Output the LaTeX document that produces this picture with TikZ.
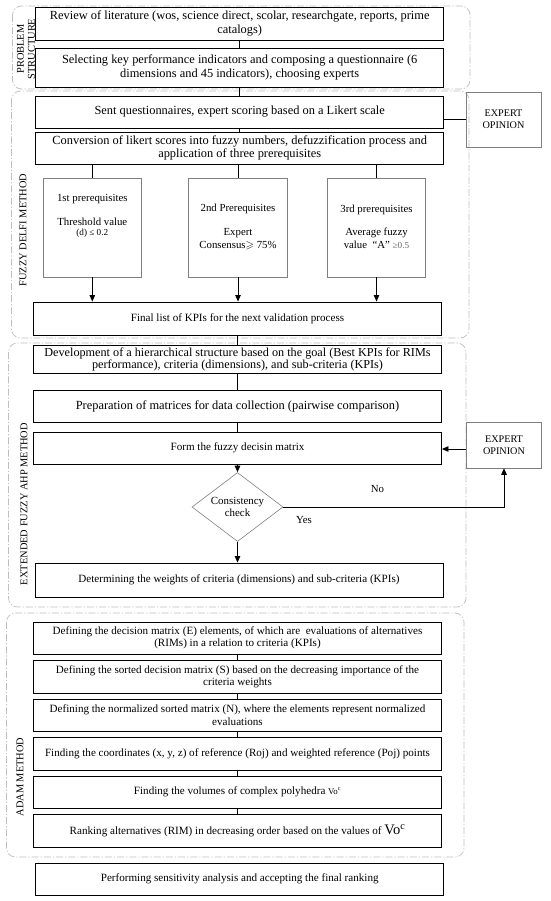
\documentclass[tikz,border=0pt]{standalone}
\usepackage{amssymb}
\usepackage{fontspec}
\setmainfont{Liberation Serif}
\usetikzlibrary{shapes.geometric,arrows.meta}
\begin{document}
\begin{tikzpicture}[x=1pt,y=-1pt,
  bigtxt/.style={font=\fontsize{12.4}{13.4}\selectfont},
  smalltxt/.style={font=\fontsize{11.1}{12.4}\selectfont},
  mainbox/.style={draw=black, line width=0.9pt, minimum width=408, align=center, inner sep=1pt},
  prebox/.style={draw=black!50, line width=0.6pt, minimum width=98.5, minimum height=99, align=center, inner sep=1pt},
  eobox/.style={draw=black!50, line width=0.6pt, minimum width=75, align=center, font=\fontsize{10.2}{12}\selectfont},
  ptxt/.style={font=\fontsize{10.8}{12}\selectfont},
  grp/.style={draw=black!25, line width=0.7pt, rounded corners=9pt, dash pattern=on 7pt off 2pt on 1.2pt off 2pt},
  grplbl/.style={rotate=90, align=center, font=\fontsize{10.4}{11}\selectfont},
  conn/.style={line width=0.9pt},
  arr/.style={line width=0.9pt, -{Triangle[length=6.5pt,width=5.5pt]}}
]
\useasboundingbox (0,0) rectangle (550,901);
\fill[white] (0,0) rectangle (550,901);

% groups
\draw[grp] (12.5,6) rectangle (470,89);
\draw[grp] (11.5,91) rectangle (469,338);
\draw[grp] (8.5,343) rectangle (466,607);
\draw[grp] (6.5,613) rectangle (464,857);

\node[grplbl] (l1) at (26,49) {PROBLEM\\STRUCTURE};
\node[grplbl] (l2) at (23,230) {FUZZY DELFI METHOD};
\node[grplbl] (l3) at (24,504) {EXTENDED FUZZY AHP METHOD};
\node[grplbl] (l4) at (20,777) {ADAM METHOD};

% problem structure
\node[mainbox, bigtxt, minimum height=33] (b1) at (239.7,23.5) {Review of literature (wos, science direct, scolar, researchgate, reports, prime\\catalogs)};
\node[mainbox, bigtxt, minimum height=39] (b2) at (239.7,67.5) {Selecting key performance indicators and composing a questionnaire (6\\dimensions and 45 indicators), choosing experts};

% fuzzy delfi
\node[mainbox, bigtxt, minimum height=32] (b3) at (239.7,112) {Sent questionnaires, expert scoring based on a Likert scale};
\node[eobox, minimum height=55] (eo1) at (503.5,119.5) {EXPERT\\OPINION};
\node[mainbox, bigtxt, minimum height=32] (b4) at (239.7,148) {Conversion of likert scores into fuzzy numbers, defuzzification process and\\application of three prerequisites};

\node[prebox] (pa) at (92.3,227.5) {};
\node[prebox] (pb) at (238,227.5) {};
\node[prebox] (pc) at (376.5,227.5) {};
\node[ptxt] (pa1) at (92.3,199) {1st prerequisites};
\node[ptxt] (pa2) at (92.3,222) {Threshold value};
\node[font=\fontsize{9.2}{10}\selectfont] (pa3) at (92.3,233.5) {(d) ≤ 0.2};
\node[ptxt] (pb1) at (238,209) {2nd Prerequisites};
\node[ptxt] (pb2) at (238,233) {Expert};
\node[ptxt] (pb3) at (238,246) {Consensus$\geqslant$ 75\%};
\node[ptxt] (pc1) at (376.5,210) {3rd prerequisites};
\node[ptxt] (pc2) at (376.5,233) {Average fuzzy};
\node[ptxt] (pc3) at (376.5,245) {value\ \ “A” {\fontsize{9.2}{10}\selectfont\color{black!60}≥0.5}};

\node[mainbox, smalltxt, minimum height=33] (fin) at (237.5,318.5) {Final list of KPIs for the next validation process};

% fuzzy AHP
\node[mainbox, font=\fontsize{12.2}{12.4}\selectfont, minimum height=28, inner sep=0.5pt] (dev) at (237.5,359.5) {Development of a hierarchical structure based on the goal (Best KPIs for RIMs\\performance), criteria (dimensions), and sub-criteria (KPIs)};
\node[mainbox, bigtxt, minimum height=32] (prep) at (237.5,406) {Preparation of matrices for data collection (pairwise comparison)};
\node[mainbox, smalltxt, minimum height=32] (form) at (237.5,448) {Form the fuzzy decisin matrix};
\node[eobox, minimum height=46] (eo2) at (504,445) {EXPERT\\OPINION};
\node[diamond, draw=black!50, line width=0.6pt, minimum width=91, minimum height=69, aspect=1.3, inner sep=0pt, align=center, font=\fontsize{10.9}{12.4}\selectfont] (dia) at (237.5,507) {Consistency\\check};
\node[ptxt] (no) at (377.5,489) {No};
\node[ptxt] (yes) at (304,520) {Yes};
\node[mainbox, smalltxt, minimum height=34] (det) at (239,580) {Determining the weights of criteria (dimensions) and sub-criteria (KPIs)};

% ADAM
\node[mainbox, smalltxt, minimum height=32] (ae) at (237.5,638) {Defining the decision matrix (E) elements, of which are\ \ evaluations of alternatives\\(RIMs) in a relation to criteria (KPIs)};
\node[mainbox, smalltxt, minimum height=33] (as) at (237.5,676.5) {Defining the sorted decision matrix (S) based on the decreasing importance of the\\criteria weights};
\node[mainbox, smalltxt, minimum height=32] (an) at (237.5,715) {Defining the normalized sorted matrix (N), where the elements represent normalized\\evaluations};
\node[mainbox, smalltxt, minimum height=33] (ac) at (237.5,753.5) {Finding the coordinates (x, y, z) of reference (Roj) and weighted reference (Poj) points};
\node[mainbox, smalltxt, minimum height=32] (av) at (237.5,792) {Finding the volumes of complex polyhedra {\fontsize{8.8}{9}\selectfont Vo\textsuperscript{c}}};
\node[mainbox, smalltxt, minimum height=33] (ar) at (237.5,830.5) {Ranking alternatives (RIM) in decreasing order based on the values of {\fontsize{14.5}{14}\selectfont Vo\textsuperscript{c}}};

\node[mainbox, smalltxt, minimum height=32] (perf) at (239.7,879) {Performing sensitivity analysis and accepting the final ranking};

% connectors
\draw[conn] (b1.south) -- (b2.north);
\draw[conn] (b2.south) -- (b3.north);
\draw[conn] (b3.south) -- (b4.north);
\draw[conn] (eo1.west) -- (eo1.west -| b3.east);
\draw[conn] (pa.north) -- (pa.north |- b4.south);
\draw[conn] (pb.north) -- (pb.north |- b4.south);
\draw[conn] (pc.north) -- (pc.north |- b4.south);
\draw[arr] (pa.south) -- (pa.south |- fin.north);
\draw[arr] (pb.south) -- (pb.south |- fin.north);
\draw[arr] (pc.south) -- (pc.south |- fin.north);
\draw[conn] (fin.south) -- (dev.north);
\draw[conn] (dev.south) -- (prep.north);
\draw[conn] (prep.south) -- (form.north);
\draw[arr] (eo2.west |- 0,449) -- (form.east |- 0,449);
\draw[arr] (form.south -| dia.north) -- (dia.north);
\draw[arr] (dia.east) -| (eo2.south);
\draw[arr] (dia.south) -- (det.north -| dia.south);
\draw[conn] (ae.south) -- (as.north);
\draw[conn] (as.south) -- (an.north);
\draw[conn] (an.south) -- (ac.north);
\draw[conn] (ac.south) -- (av.north);
\draw[conn] (av.south) -- (ar.north);
\end{tikzpicture}
\end{document}
